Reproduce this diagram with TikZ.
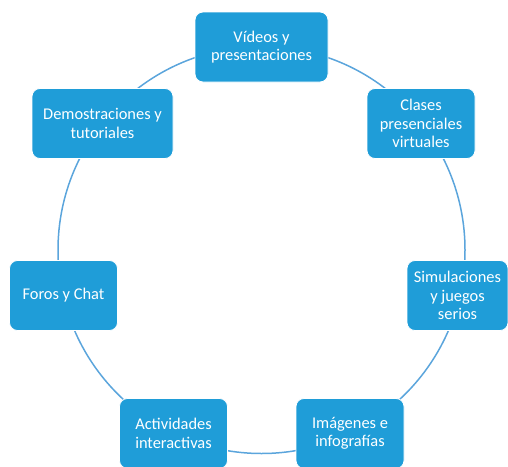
\documentclass[tikz,border=0pt]{standalone}
\usepackage{fontspec}
\setmainfont{Carlito}
\definecolor{boxblue}{RGB}{31,157,216}
\definecolor{ringblue}{RGB}{91,165,220}
\begin{document}
\begin{tikzpicture}[x=1pt,y=1pt]
\tikzstyle{every node}=[rectangle,rounded corners=8pt,fill=boxblue,draw=white,line width=0.8pt,text=white,align=center,inner xsep=3pt,minimum width=108pt,minimum height=70pt,font=\fontsize{16.4}{18.3}\selectfont]
\useasboundingbox (0,0) rectangle (508,-466);
\coordinate (ctr) at (261.5,-250);
\draw[ringblue,line width=1.5pt] (ctr) circle[radius=203.5pt];
\node[minimum width=133pt](n0) at (261.5,-47) {Vídeos y\\presentaciones};
\node(n1) at (421,-123.5) {Clases\\presenciales\\virtuales};
\node[minimum width=101pt](n2) at (457.5,-295.5) {Simulaciones\\y juegos\\serios};
\node(n3) at (350,-433.5) {Imágenes e\\infografías};
\node(n4) at (173.5,-433.5) {Actividades\\interactivas};
\node(n5) at (63.5,-295.5) {Foros y Chat};
\node[minimum width=141pt](n6) at (102.5,-123.5) {Demostraciones y\\tutoriales};
\end{tikzpicture}
\end{document}
